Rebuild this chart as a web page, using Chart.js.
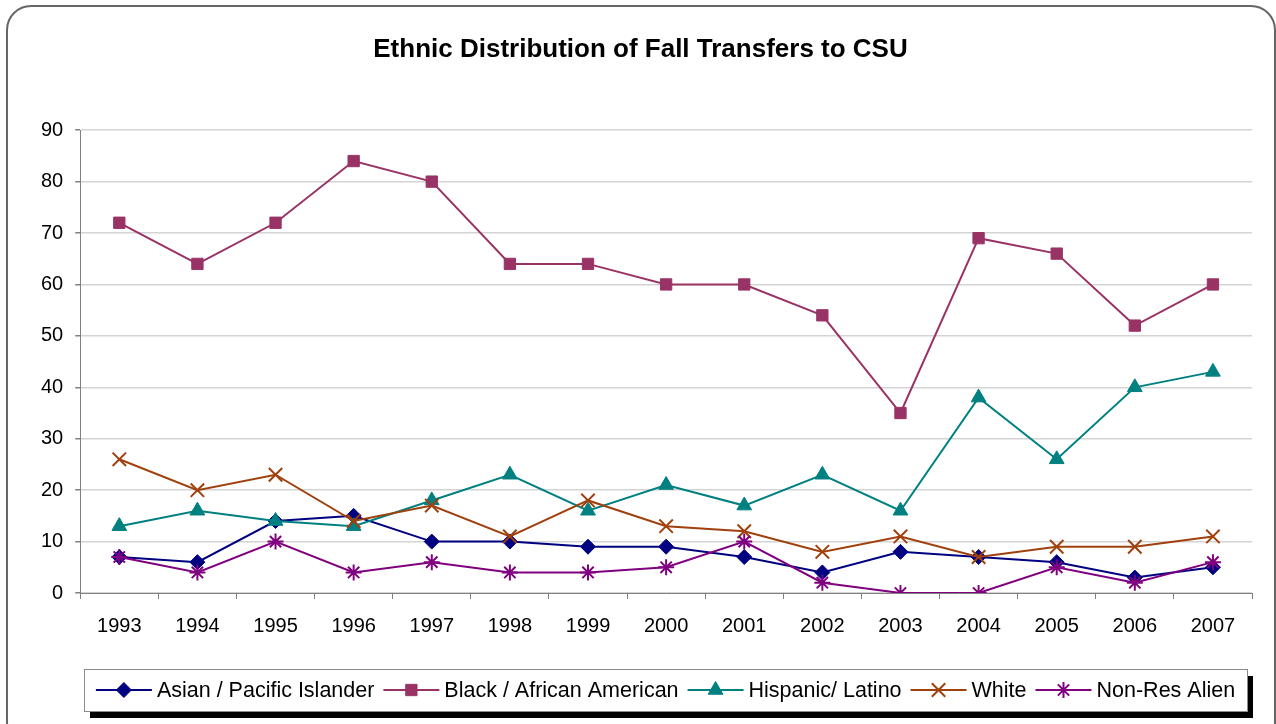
<!DOCTYPE html>
<html>
<head>
<meta charset="utf-8">
<script src="https://cdn.jsdelivr.net/npm/chart.js@4"></script>
<style>
  html, body { margin: 0; padding: 0; background: #fff; }
  #wrap { width: 1276px; height: 724px; }
</style>
</head>
<body>
<div id="wrap"><canvas id="chart" width="1276" height="724"></canvas></div>
<script>
// ── Data ────────────────────────────────────────────────────────────────────
const years = ['1993', '1994', '1995', '1996', '1997', '1998', '1999', '2000',
               '2001', '2002', '2003', '2004', '2005', '2006', '2007'];

const asian    = [7, 6, 14, 15, 10, 10, 9, 9, 7, 4, 8, 7, 6, 3, 5];
const black    = [72, 64, 72, 84, 80, 64, 64, 60, 60, 54, 35, 69, 66, 52, 60];
const hispanic = [13, 16, 14, 13, 18, 23, 16, 21, 17, 23, 16, 38, 26, 40, 43];
const white    = [26, 20, 23, 14, 17, 11, 18, 13, 12, 8, 11, 7, 9, 9, 11];
const nonRes   = [7, 4, 10, 4, 6, 4, 4, 5, 10, 2, 0, 0, 5, 2, 6];

const seriesNames = ['Asian / Pacific Islander', 'Black / African American',
                     'Hispanic/ Latino', 'White', 'Non-Res Alien'];

const yTicks = [0, 10, 20, 30, 40, 50, 60, 70, 80, 90];

const FONT = "'Liberation Sans', Arial, sans-serif";

// ── Series styling ──────────────────────────────────────────────────────────
const styles = [
    { color: '#000080', point: 'rectRot',  radius: 7.5, border: 1 },
    { color: '#993366', point: 'rect',     radius: 8,   border: 1 },
    { color: '#008080', point: 'triangle', radius: 8.5, border: 1 },
    { color: '#a0410d', point: 'crossRot', radius: 9.5, border: 2 },
    { color: '#800080', point: 'star',     radius: 8,   border: 2 },
];
const values = [asian, black, hispanic, white, nonRes];

const datasets = values.map((data, i) => ({
    label: seriesNames[i],
    data,
    borderColor: styles[i].color,
    backgroundColor: styles[i].color,
    borderWidth: 2,
    pointStyle: styles[i].point,
    pointRadius: styles[i].radius,
    pointBorderWidth: styles[i].border,
    pointBackgroundColor: styles[i].color,
    pointBorderColor: styles[i].color,
    tension: 0,
    order: values.length - i, // later series drawn on top, like the original
}));

// ── Frame: rounded outer border ─────────────────────────────────────────────
const framePlugin = {
    id: 'frame',
    beforeDraw(chart) {
        const { ctx } = chart;
        ctx.save();
        ctx.fillStyle = '#fff';
        ctx.fillRect(0, 0, chart.width, chart.height);
        ctx.beginPath();
        ctx.roundRect(7, 6, 1268, 740, 24);
        ctx.lineWidth = 2;
        ctx.strokeStyle = '#666';
        ctx.stroke();
        ctx.restore();
    },
};

// ── Legend: boxed, with shadow and line+marker symbols ──────────────────────
const legendPlugin = {
    id: 'boxLegend',
    afterDraw(chart) {
        const { ctx } = chart;
        const box = { x: 84, y: 669, w: 1163, h: 42 };
        ctx.save();
        ctx.fillStyle = '#000';
        ctx.fillRect(box.x + 6, box.y + 7, box.w, box.h);
        ctx.fillStyle = '#fff';
        ctx.fillRect(box.x, box.y, box.w, box.h);
        ctx.strokeStyle = '#8c8c8c';
        ctx.lineWidth = 1;
        ctx.strokeRect(box.x + 0.5, box.y + 0.5, box.w, box.h);

        ctx.font = `21.5px ${FONT}`;
        ctx.textBaseline = 'middle';
        ctx.textAlign = 'left';
        const symW = 56, gapIn = 5, gapOut = 9;
        const widths = seriesNames.map(n => symW + gapIn + ctx.measureText(n).width);
        const total = widths.reduce((a, b) => a + b, 0) + gapOut * (widths.length - 1);
        let x = box.x + (box.w - total) / 2;
        const cy = box.y + box.h / 2;
        seriesNames.forEach((name, i) => {
            const st = styles[i];
            ctx.strokeStyle = st.color;
            ctx.lineWidth = 2;
            ctx.beginPath();
            ctx.moveTo(x, cy);
            ctx.lineTo(x + symW, cy);
            ctx.stroke();
            ctx.fillStyle = st.color;
            ctx.lineWidth = st.border;
            Chart.helpers.drawPoint(ctx, {
                pointStyle: st.point, radius: st.radius, rotation: 0, borderWidth: st.border,
            }, x + symW / 2, cy);
            ctx.fillStyle = '#000';
            ctx.fillText(name, x + symW + gapIn, cy + 1);
            x += widths[i] + gapOut;
        });
        ctx.restore();
    },
};

// ── Chart ───────────────────────────────────────────────────────────────────
new Chart(document.getElementById('chart'), {
    type: 'line',
    data: { labels: years, datasets },
    plugins: [framePlugin, legendPlugin],
    options: {
        responsive: false,
        animation: false,
        layout: { padding: { left: 29, right: 24, top: 0, bottom: 71 } },
        plugins: {
            legend: { display: false },
            tooltip: { enabled: false },
            title: {
                display: true,
                text: 'Ethnic Distribution of Fall Transfers to CSU',
                color: '#000',
                font: { family: FONT, size: 26, weight: 'bold' },
                padding: { top: 34, bottom: 65 },
            },
        },
        scales: {
            x: {
                offset: true,
                grid: {
                    offset: true,
                    drawOnChartArea: false,
                    drawTicks: true,
                    tickLength: 6,
                    tickColor: '#808080',
                },
                border: { color: '#808080', width: 1 },
                ticks: { color: '#000', font: { family: FONT, size: 20 }, padding: 15 },
            },
            y: {
                min: yTicks[0],
                max: yTicks[yTicks.length - 1],
                afterBuildTicks: (axis) => { axis.ticks = yTicks.map(v => ({ value: v })); },
                grid: {
                    color: '#d4d4d4',
                    lineWidth: 1.5,
                    tickLength: 5,
                    tickColor: '#808080',
                },
                border: { color: '#808080', width: 1 },
                ticks: { color: '#000', font: { family: FONT, size: 20 }, padding: 12 },
            },
        },
    },
});
</script>
</body>
</html>
